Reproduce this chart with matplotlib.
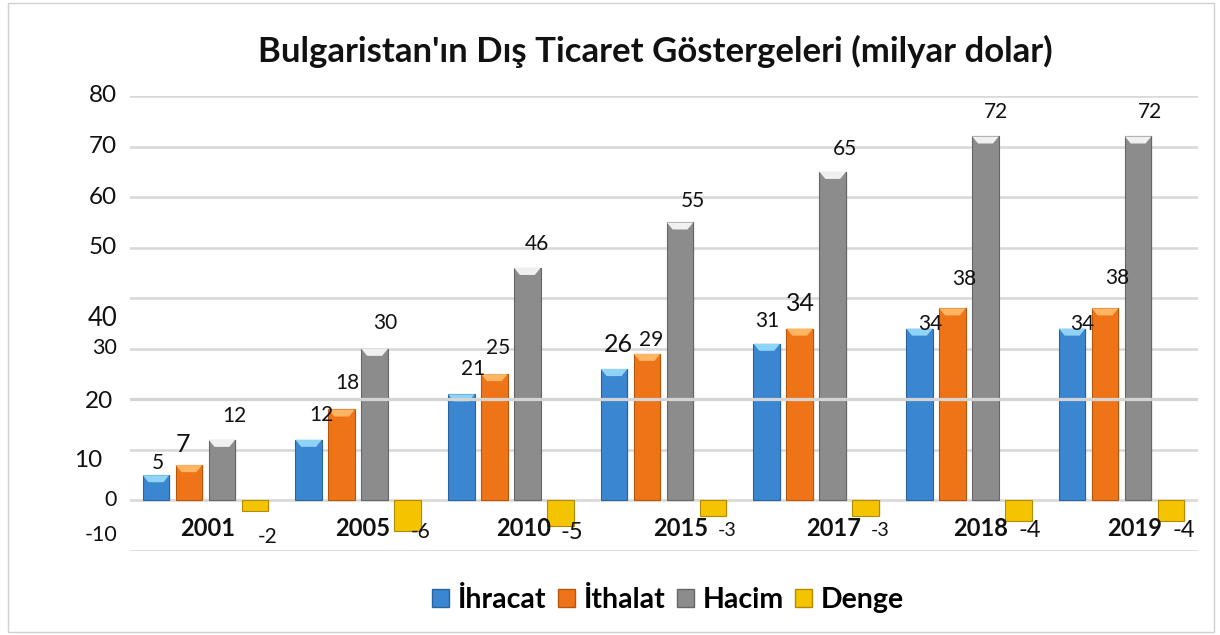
import numpy as np
import matplotlib.pyplot as plt
from matplotlib.patches import Patch, Polygon, Rectangle

plt.rcParams['font.family'] = ['Lato', 'DejaVu Sans']

# Veriler (milyar dolar)
yillar = ['2001', '2005', '2010', '2015', '2017', '2018', '2019']
ihracat = [5, 12, 21, 26, 31, 34, 34]
ithalat = [7, 18, 25, 29, 34, 38, 38]
hacim = [12, 30, 46, 55, 65, 72, 72]
denge = [-2, -6, -5, -3, -3, -4, -4]

seriler = ['İhracat', 'İthalat', 'Hacim', 'Denge']
renkler = ['#3a86d0', '#ef7418', '#8c8c8c', '#f5c400']
kapak = ['#8fd3f7', '#ffb562', '#f0f0f0', '#ffe45c']
kenar = ['#2a64a0', '#b9560e', '#666666', '#b08a00']

# etiket yerlesimi (piksel)
etiket_dx = [[2, 13, 12, 4, 1, 11, 10],
             [-6, 6, 4, 4, 1, 12, 12],
             [12, 11, 10, 13, 12, 11, 12]]
etiket_dy = [[12, 25, 25, 25, 23, 5, 5],
             [21, 26, 26, 14, 25, 29, 30],
             [24, 26, 24, 21, 23, 24, 24]]
etiket_boy = [[15, 15, 15, 18, 15, 15, 15],
              [18, 15, 15, 15, 18, 15, 15],
              [15, 15, 15, 15, 15, 15, 15]]
denge_y = [-7.3, -6.3, -6.3, -5.9, -5.9, -5.9, -5.9]
denge_dx = [13, 13, 11, 14, 14, 11, 13]
denge_boy = [15, 15, 17, 14, 14, 17, 17]
yil_dx = [2, 5, 13, 17, 17, 12, 13]

eksen_etiket = ['80', '70', '60', '50', '40', '30', '20', '10', '0', '-10']
eksen_y = [80, 70, 60, 50, 35.9, 30.2, 19.6, 7.9, 0, -6.9]
eksen_dx = [-13, -13, -13, -13, -13, -13, -17, -28, -13, -13]
eksen_boy = [17.5, 17.5, 17.5, 17.5, 18.5, 15.5, 17.5, 17.5, 15.5, 15.5]

fig = plt.figure(figsize=(12.2, 6.35), dpi=100)
ax = fig.add_axes([130 / 1220, 1 - 551 / 635, 1068 / 1220, 455 / 635])

x = np.arange(len(yillar))
adim = 33 / 152.7
gen = 26.5 / 152.7
degerler = [ihracat, ithalat, hacim, denge]

for k, vals in enumerate(degerler):
    bars = ax.bar(x + (k - 1.5) * adim, vals, gen, color=renkler[k],
                  edgecolor=kenar[k], linewidth=0.8, zorder=3, label=seriler[k])
    for b in bars:
        x0, w, h = b.get_x(), b.get_width(), b.get_height()
        if h > 0:
            d = 1.4
            ax.add_patch(Polygon([(x0, h), (x0 + w, h), (x0 + w * 0.78, h - d),
                                  (x0 + w * 0.22, h - d)], closed=True,
                                 facecolor=kapak[k], edgecolor='none', zorder=4))
        # hafif golge
        ax.add_patch(Rectangle((x0 + 0.01, 0 if h > 0 else h), w, abs(h),
                               facecolor='#000000', alpha=0.06, zorder=2,
                               edgecolor='none'))

# veri etiketleri
for k in range(3):
    for i, v in enumerate(degerler[k]):
        ax.annotate(str(v), xy=(x[i] + (k - 1.5) * adim, v),
                    xytext=(etiket_dx[k][i], etiket_dy[k][i]),
                    textcoords='offset pixels', ha='center', va='center',
                    fontsize=etiket_boy[k][i], color='#111111', zorder=6)
for i, v in enumerate(denge):
    ax.annotate(str(v), xy=(x[i] + 1.5 * adim, denge_y[i]),
                xytext=(denge_dx[i], 0), textcoords='offset pixels',
                ha='center', va='center', fontsize=denge_boy[i],
                color='#111111', zorder=6)

# yil etiketleri (eksen icinde)
for i, y in enumerate(yillar):
    ax.annotate(y, xy=(x[i], -5.5), xytext=(yil_dx[i], 0),
                textcoords='offset pixels', ha='center', va='center',
                fontsize=17, fontweight='bold', color='#111111', zorder=6)

# y ekseni etiketleri
for lbl, yy, dx, fs in zip(eksen_etiket, eksen_y, eksen_dx, eksen_boy):
    ax.annotate(lbl, xy=(0, yy), xycoords=ax.get_yaxis_transform(),
                xytext=(dx, 0), textcoords='offset pixels', ha='right',
                va='center', fontsize=fs, color='#111111', annotation_clip=False)

ax.set_xlim(-0.494, 6.50)
ax.set_ylim(-10, 80)
ax.set_yticks(range(-10, 81, 10))
ax.set_yticklabels([])
ax.set_xticks([])
ax.tick_params(length=0)
ax.grid(axis='y', color='#d9d9d9', linewidth=1.9, zorder=0)
ax.axhline(20, color='#d4d4d4', linewidth=2.3, zorder=5)
for s in ax.spines.values():
    s.set_visible(False)

fig.text(655 / 1220, 1 - 51 / 635, "Bulgaristan'ın Dış Ticaret Göstergeleri (milyar dolar)",
         ha='center', va='center', fontsize=25, fontweight='bold', color='#111111')

tutamac = [Patch(facecolor=renkler[k], edgecolor=kenar[k]) for k in range(4)]
fig.legend(tutamac, seriler, loc='center', bbox_to_anchor=(668 / 1220, 1 - 600 / 635),
           ncol=4, frameon=False, handlelength=0.6, handleheight=0.6,
           handletextpad=0.3, columnspacing=0.4,
           prop={'weight': 'bold', 'size': 20.5})

fig.add_artist(Rectangle((8 / 1220, 3 / 635), 1206 / 1220, 629 / 635,
                         transform=fig.transFigure, fill=False,
                         edgecolor='#d0d0d0', linewidth=1))

fig.savefig('out.png', dpi=100)
